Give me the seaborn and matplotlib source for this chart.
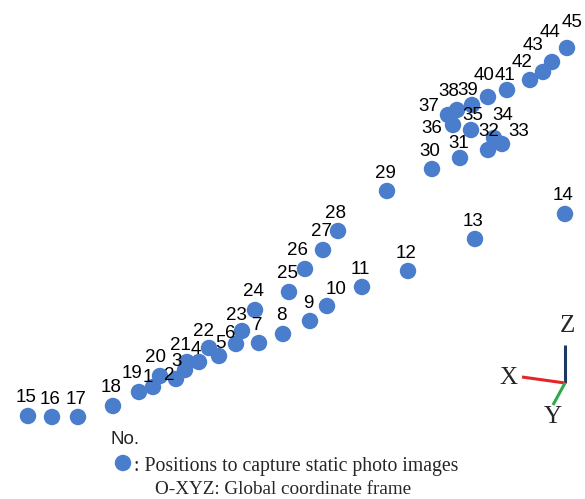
import numpy as np
import pandas as pd
import matplotlib
matplotlib.use("Agg")
import matplotlib.pyplot as plt
import seaborn as sns

# capture positions, numbered 1..45 (image plane coordinates)
pos_no = list(range(1, 46))
pos_x = [153, 176, 185, 199, 219, 236, 259, 283, 310, 327, 362, 408, 475, 565,
         28, 52, 78, 113, 139, 160, 187, 209, 242, 255, 289, 305, 323, 338,
         387, 432, 460, 488, 502, 494, 471, 453, 448, 457, 472, 488, 507, 530,
         543, 552, 567]
pos_y = [387, 379, 370, 362, 356, 344, 343, 334, 321, 306, 287, 271, 239, 214,
         416, 417, 417, 406, 392, 376, 362, 348, 331, 310, 292, 269, 250, 231,
         191, 169, 158, 150, 144, 138, 130, 125, 115, 110, 105, 97, 90, 80,
         72, 62, 48]

legend_marker = ": Positions to capture static photo images"
legend_frame = "O-XYZ: Global coordinate frame"

df = pd.DataFrame({"no": pos_no, "x": pos_x, "y": pos_y})

sns.set_theme(style="white")
plt.rcParams["font.family"] = ["Liberation Sans", "DejaVu Sans"]

fig = plt.figure(figsize=(5.85, 4.99), dpi=100)
ax = fig.add_axes([0, 0, 1, 1])

dot_color = "#4A7ECD"
sns.scatterplot(data=df, x="x", y="y", ax=ax, s=140, color=dot_color,
                edgecolor="none", legend=False, zorder=2)

# label offsets in pixels (default above the dot)
offsets = {1: (-5, -9), 2: (-7, -4), 3: (-8, -8), 4: (-3, -12), 5: (1, -13),
           6: (-6, -11), 19: (-7, -19), 20: (-5, -18), 21: (-7, -17),
           22: (-6, -16), 23: (-6, -16), 26: (-8, -19), 10: (9, -16),
           31: (-1, -14), 32: (1, -19), 36: (-21, 3), 37: (-19, -9),
           38: (-8, -19), 39: (-4, -15), 35: (2, -15), 34: (9, -23),
           33: (17, -12), 40: (-4, -22), 41: (-2, -15), 42: (-8, -18),
           43: (-10, -27), 44: (-2, -30), 45: (5, -26)}
for n, x, y in zip(df["no"], df["x"], df["y"]):
    dx, dy = offsets.get(n, (-2, -18))
    ax.text(x + dx, y + dy, str(n), fontsize=13.5, ha="center", va="center",
            color="black", zorder=3)

# coordinate triad
ox, oy = 565, 383
ax.plot([ox, ox], [oy, 345], color="#1F3864", lw=2.2, solid_capstyle="butt")
ax.plot([ox, 522], [oy, 377], color="#E02828", lw=2.2, solid_capstyle="butt")
ax.plot([ox, 553], [oy, 405], color="#2EAA4A", lw=2.2, solid_capstyle="butt")
serif = ["Liberation Serif", "DejaVu Serif"]
ax.text(567, 326, "Z", fontsize=18, family=serif, ha="center", va="center")
ax.text(508, 378, "X", fontsize=18, family=serif, ha="center", va="center")
ax.text(553, 417, "Y", fontsize=18, family=serif, ha="center", va="center")

# legend
ax.text(125, 440, "No.", fontsize=13.5, ha="center", va="center")
ax.scatter([123], [463], s=140, color=dot_color, edgecolor="none")
ax.text(134, 466, legend_marker, fontsize=14.2, family=serif, ha="left", va="center")
ax.text(155, 489, legend_frame, fontsize=13.8, family=serif, ha="left", va="center")

ax.set_xlim(0, 585)
ax.set_ylim(499, 0)
ax.set_axis_off()

fig.savefig("out.png", dpi=100)
